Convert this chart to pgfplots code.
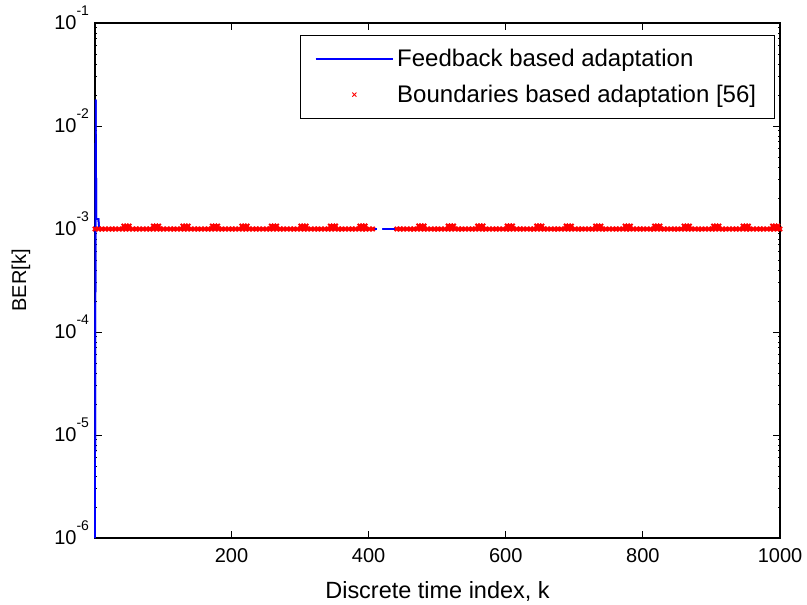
\documentclass[border=0pt]{standalone}
\usepackage{fontspec}
\setmainfont{Liberation Sans}
\usepackage{pgfplots}
\pgfplotsset{compat=1.18}

% power-of-ten tick label with a raised exponent, in the text font
\newcommand{\pw}[1]{10\smash{\raisebox{11pt}{\fontsize{10.5}{12}\selectfont -#1}}}

\begin{document}
\begin{tikzpicture}
\useasboundingbox (-71.25pt,-49.5pt) rectangle (534pt,403.5pt);
\begin{axis}[
  scale only axis,
  width=513.75pt, height=386.25pt,
  ymode=log,
  xmin=1, xmax=1000,
  ymin=1e-6, ymax=1e-1,
  clip=false,
  xtick={200,400,600,800,1000},
  xticklabels={200,400,600,800,1000},
  ytick={1e-6,1e-5,1e-4,1e-3,1e-2,1e-1},
  yticklabels={\pw{6},\pw{5},\pw{4},\pw{3},\pw{2},\pw{1}},
  ticklabel style={font=\fontsize{15}{18}\selectfont},
  xticklabel style={yshift=-4pt},
  yticklabel style={xshift=-1pt},
  major tick length=5pt,
  minor tick length=1.6pt,
  tick style={black, line width=0.7pt},
  axis line style={black, line width=0.9pt},
  xlabel={Discrete time index, k},
  ylabel={BER[k]},
  xlabel style={font=\fontsize{17.6}{20}\selectfont, at={(axis description cs:0.5,-0.1165)}, anchor=base},
  ylabel style={font=\fontsize{15}{18}\selectfont, at={(axis description cs:-0.1007,0.5)}, anchor=base},
  legend cell align=left,
  legend image code/.code={%
    \draw[mark repeat=2,mark phase=2,#1] plot coordinates {(0pt,0pt) (29pt,0pt) (58pt,0pt)};},
  legend style={at={(1,1)}, anchor=north east, xshift=-4pt, yshift=-9pt,
    draw=black, line width=0.75pt,
    font=\fontsize{18}{21}\selectfont,
    row sep=7pt, inner xsep=11pt, inner ysep=8pt,
    nodes={inner sep=2.5pt},
    every odd column/.append style={column sep=3pt}},
]

% feedback based adaptation
\addplot[color=blue, line width=1.3pt, unbounded coords=jump] coordinates {
  (1,1e-6) (2,1.8e-2) (3,1.25e-3) (6,1.25e-3) (7,1e-3) (412,1e-3) (416,nan) (420,1e-3) (1000,1e-3)
};
\addlegendentry{Feedback based adaptation}

% boundaries based adaptation
\addplot[only marks, color=red, mark=x, mark size=2.2pt, line width=1.5pt,
  legend image post style={line width=0.6pt, mark size=2.2pt}] coordinates {
  (1,1e-3) (6,1e-3) (11,1e-3) (16,1e-3) (21,1e-3) (26,1e-3) (31,1e-3) (36,1e-3) (41,1e-3) (46,1e-3)
  (51,1e-3) (56,1e-3) (61,1e-3) (66,1e-3) (71,1e-3) (76,1e-3) (81,1e-3) (86,1e-3) (91,1e-3) (96,1e-3)
  (101,1e-3) (106,1e-3) (111,1e-3) (116,1e-3) (121,1e-3) (126,1e-3) (131,1e-3) (136,1e-3) (141,1e-3) (146,1e-3)
  (151,1e-3) (156,1e-3) (161,1e-3) (166,1e-3) (171,1e-3) (176,1e-3) (181,1e-3) (186,1e-3) (191,1e-3) (196,1e-3)
  (201,1e-3) (206,1e-3) (211,1e-3) (216,1e-3) (221,1e-3) (226,1e-3) (231,1e-3) (236,1e-3) (241,1e-3) (246,1e-3)
  (251,1e-3) (256,1e-3) (261,1e-3) (266,1e-3) (271,1e-3) (276,1e-3) (281,1e-3) (286,1e-3) (291,1e-3) (296,1e-3)
  (301,1e-3) (306,1e-3) (311,1e-3) (316,1e-3) (321,1e-3) (326,1e-3) (331,1e-3) (336,1e-3) (341,1e-3) (346,1e-3)
  (351,1e-3) (356,1e-3) (361,1e-3) (366,1e-3) (371,1e-3) (376,1e-3) (381,1e-3) (386,1e-3) (391,1e-3) (396,1e-3)
  (401,1e-3) (406,1e-3)
  (441,1e-3) (446,1e-3)
  (451,1e-3) (456,1e-3) (461,1e-3) (466,1e-3) (471,1e-3) (476,1e-3) (481,1e-3) (486,1e-3) (491,1e-3) (496,1e-3)
  (501,1e-3) (506,1e-3) (511,1e-3) (516,1e-3) (521,1e-3) (526,1e-3) (531,1e-3) (536,1e-3) (541,1e-3) (546,1e-3)
  (551,1e-3) (556,1e-3) (561,1e-3) (566,1e-3) (571,1e-3) (576,1e-3) (581,1e-3) (586,1e-3) (591,1e-3) (596,1e-3)
  (601,1e-3) (606,1e-3) (611,1e-3) (616,1e-3) (621,1e-3) (626,1e-3) (631,1e-3) (636,1e-3) (641,1e-3) (646,1e-3)
  (651,1e-3) (656,1e-3) (661,1e-3) (666,1e-3) (671,1e-3) (676,1e-3) (681,1e-3) (686,1e-3) (691,1e-3) (696,1e-3)
  (701,1e-3) (706,1e-3) (711,1e-3) (716,1e-3) (721,1e-3) (726,1e-3) (731,1e-3) (736,1e-3) (741,1e-3) (746,1e-3)
  (751,1e-3) (756,1e-3) (761,1e-3) (766,1e-3) (771,1e-3) (776,1e-3) (781,1e-3) (786,1e-3) (791,1e-3) (796,1e-3)
  (801,1e-3) (806,1e-3) (811,1e-3) (816,1e-3) (821,1e-3) (826,1e-3) (831,1e-3) (836,1e-3) (841,1e-3) (846,1e-3)
  (851,1e-3) (856,1e-3) (861,1e-3) (866,1e-3) (871,1e-3) (876,1e-3) (881,1e-3) (886,1e-3) (891,1e-3) (896,1e-3)
  (901,1e-3) (906,1e-3) (911,1e-3) (916,1e-3) (921,1e-3) (926,1e-3) (931,1e-3) (936,1e-3) (941,1e-3) (946,1e-3)
  (951,1e-3) (956,1e-3) (961,1e-3) (966,1e-3) (971,1e-3) (976,1e-3) (981,1e-3) (986,1e-3) (991,1e-3) (996,1e-3)
  (1000,1e-3)
};
\addlegendentry{Boundaries based adaptation [56]}

% slightly higher samples of the same series
\addplot[only marks, color=red, mark=x, mark size=2.2pt, line width=1.5pt, forget plot] coordinates {
  (43,1.07e-3) (47,1.07e-3) (51,1.07e-3) (86,1.07e-3) (90,1.07e-3) (94,1.07e-3)
  (129,1.07e-3) (133,1.07e-3) (137,1.07e-3) (172,1.07e-3) (176,1.07e-3) (180,1.07e-3)
  (215,1.07e-3) (219,1.07e-3) (223,1.07e-3) (258,1.07e-3) (262,1.07e-3) (266,1.07e-3)
  (301,1.07e-3) (305,1.07e-3) (309,1.07e-3) (344,1.07e-3) (348,1.07e-3) (352,1.07e-3)
  (387,1.07e-3) (391,1.07e-3) (395,1.07e-3) (473,1.07e-3) (477,1.07e-3) (481,1.07e-3)
  (516,1.07e-3) (520,1.07e-3) (524,1.07e-3) (559,1.07e-3) (563,1.07e-3) (567,1.07e-3)
  (602,1.07e-3) (606,1.07e-3) (610,1.07e-3) (645,1.07e-3) (649,1.07e-3) (653,1.07e-3)
  (688,1.07e-3) (692,1.07e-3) (696,1.07e-3) (731,1.07e-3) (735,1.07e-3) (739,1.07e-3)
  (774,1.07e-3) (778,1.07e-3) (782,1.07e-3) (817,1.07e-3) (821,1.07e-3) (825,1.07e-3)
  (860,1.07e-3) (864,1.07e-3) (868,1.07e-3) (903,1.07e-3) (907,1.07e-3) (911,1.07e-3)
  (946,1.07e-3) (950,1.07e-3) (954,1.07e-3) (989,1.07e-3) (993,1.07e-3) (997,1.07e-3)
};

% feedback curve redrawn on top of the markers
\addplot[color=blue, line width=1.3pt, unbounded coords=jump, forget plot] coordinates {
  (1,1e-6) (2,1.8e-2) (3,1.25e-3) (6,1.25e-3) (7,1e-3) (412,1e-3) (416,nan) (420,1e-3) (1000,1e-3)
};
\end{axis}
\end{tikzpicture}
\end{document}
